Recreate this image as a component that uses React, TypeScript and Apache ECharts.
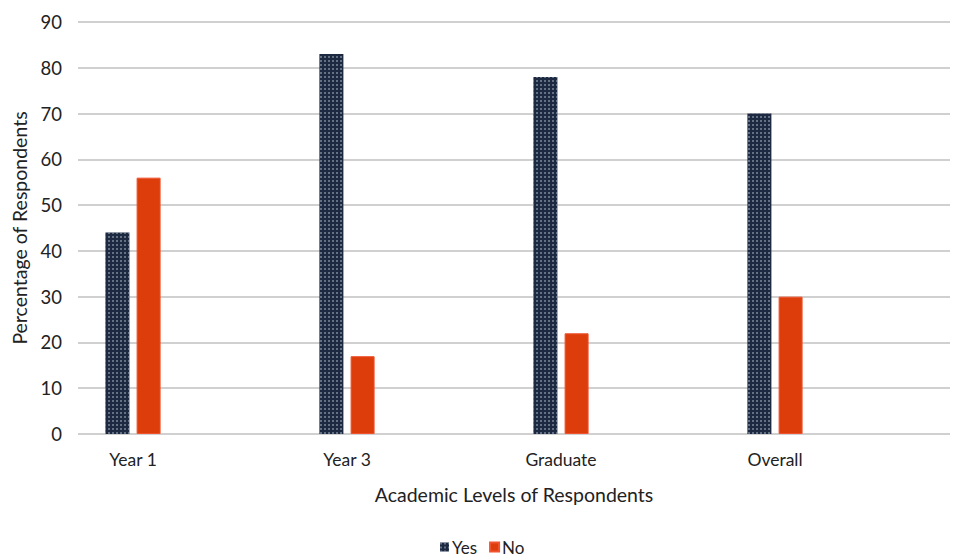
import React, { useEffect, useRef } from "react";
import * as echarts from "echarts";

const categories = ["Year 1", "Year 3", "Graduate", "Overall"];
const yesValues = [44, 83, 78, 70];
const noValues = [56, 17, 22, 30];
const seriesNames = ["Yes", "No"];
const yTicks = { min: 0, max: 90, interval: 10 };

const FONT = "Lato, 'Open Sans', sans-serif";

export default function App() {
  const ref = useRef<HTMLDivElement>(null);
  useEffect(() => {
    if (!ref.current) return;
    const chart = echarts.init(ref.current, undefined, { renderer: "svg" });
    chart.setOption({
      animation: false,
      backgroundColor: "#ffffff",
      textStyle: { fontFamily: FONT },
      grid: [
        { left: 78, right: 3, top: 22, bottom: 123, containLabel: false },
        { left: 26, right: 71, top: 22, bottom: 123, containLabel: false },
      ],
      legend: {
        data: seriesNames,
        top: 538,
        left: 440,
        padding: 0,
        itemWidth: 9,
        itemHeight: 9,
        itemGap: 12,
        icon: "rect",
        textStyle: { fontFamily: FONT, fontSize: 17, lineHeight: 18, color: "#222", padding: [0, 0, 0, -2] },
      },
      xAxis: [
        {
          gridIndex: 0,
          type: "value",
          min: 0,
          max: 1,
          axisLine: { show: false },
          axisTick: { show: false },
          axisLabel: { show: false },
          splitLine: { show: false },
          name: "Academic Levels of Respondents",
          nameLocation: "middle",
          nameGap: 50,
          nameTextStyle: { fontFamily: FONT, fontSize: 19.5, color: "#222" },
        },
        {
          gridIndex: 1,
          type: "category",
          data: categories,
          axisLine: { show: false },
          axisTick: { show: false },
          axisLabel: { fontFamily: FONT, fontSize: 17.5, color: "#222", margin: 16 },
        },
      ],
      yAxis: [
        {
          gridIndex: 0,
          type: "value",
          min: yTicks.min,
          max: yTicks.max,
          interval: yTicks.interval,
          axisLine: { show: false },
          axisTick: { show: false },
          axisLabel: { fontFamily: FONT, fontSize: 18.5, color: "#222", margin: 16 },
          splitLine: { lineStyle: { color: "#c0c0c0", width: 1.5 } },
          name: "Percentage of Respondents",
          nameLocation: "middle",
          nameGap: 45,
          nameTextStyle: { fontFamily: FONT, fontSize: 19.5, color: "#222" },
        },
        {
          gridIndex: 1,
          type: "value",
          min: yTicks.min,
          max: yTicks.max,
          interval: yTicks.interval,
          show: false,
          splitLine: { show: false },
        },
      ],
      series: [
        {
          name: seriesNames[0],
          type: "bar",
          xAxisIndex: 1,
          yAxisIndex: 1,
          data: yesValues,
          barWidth: 24,
          barGap: "30%",
          itemStyle: {
            color: "#1c2940",
            decal: {
              symbol: "circle",
              symbolSize: 0.8,
              dashArrayX: [1.5, 1.5],
              dashArrayY: [1.5, 1.5],
              color: "rgba(190,200,215,0.7)",
              rotation: 0,
            },
          },
        },
        {
          name: seriesNames[1],
          type: "bar",
          xAxisIndex: 1,
          yAxisIndex: 1,
          data: noValues,
          barWidth: 24,
          itemStyle: { color: "#dc3d0b", borderColor: "#f0532e", borderWidth: 1 },
        },
      ],
    });
    return () => chart.dispose();
  }, []);
  return (
    <div
      ref={ref}
      style={{ position: "fixed", left: 0, top: 0, width: 953, height: 557 }}
    />
  );
}
